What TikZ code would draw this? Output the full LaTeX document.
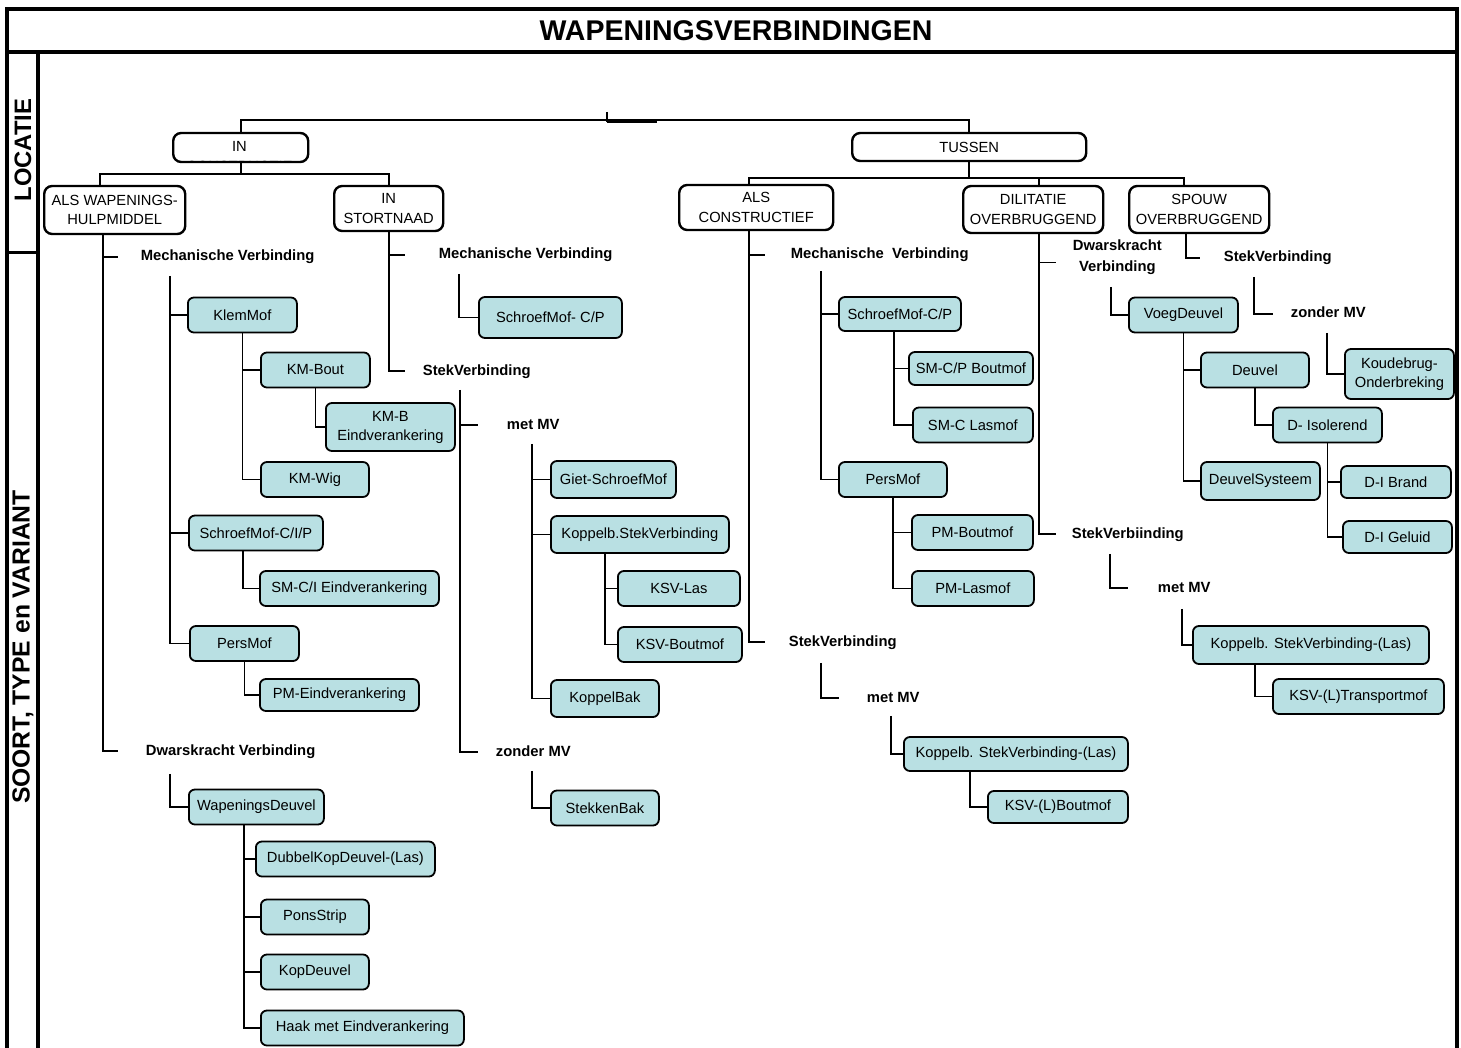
\documentclass[tikz,border=0pt]{standalone}
\usepackage{fontspec}
\setmainfont{Liberation Sans}
\definecolor{leafblue}{RGB}{185,224,227}

\begin{document}
\begin{tikzpicture}[x=1pt,y=-1pt,line width=1.8pt,
	locbox/.style={draw,line width=2.4pt,rounded corners=8pt,fill=white,anchor=west,align=center,inner sep=2pt,font=\fontsize{14.7}{19.5}\selectfont},
	leaf/.style={draw,rounded corners=6pt,fill=leafblue,anchor=west,align=center,minimum height=35pt,inner sep=2pt,font=\fontsize{14.7}{19}\selectfont},
	lbl/.style={anchor=west,inner sep=0pt,text height=11pt,text depth=3pt,font=\fontsize{14.8}{19}\selectfont\bfseries}]
	\useasboundingbox (0,0) rectangle (1461,1048);
	% frame
	\draw[line width=3.5pt] (7,1048) -- (7,9) -- (1457,9) -- (1457,1048);
	\draw[line width=3.5pt] (7,52) -- (1457,52);
	\draw[line width=3.5pt] (38,52) -- (38,1048);
	\draw[line width=3pt] (7,253) -- (38,253);
	\node[font=\fontsize{28.5}{31}\selectfont\bfseries] (title) at (736,31) {WAPENINGSVERBINDINGEN};
	\node[rotate=90,font=\fontsize{23.8}{26}\selectfont\bfseries] (loc) at (23,150) {LOCATIE};
	\node[rotate=90,font=\fontsize{24.7}{27}\selectfont\bfseries] (soort) at (23,647) {SOORT, TYPE en VARIANT};

	% locatie
	\node[locbox,minimum width=135pt,minimum height=29pt] (incon) at (172,147.5) {};
	\begin{scope}
		\clip[rounded corners=8pt] ([yshift=1.5pt]incon.south west) rectangle (incon.north east);
		\node[font=\fontsize{14.7}{20}\selectfont,align=center] at (239.5,157) {IN\\CONSTRUCTIE};
	\end{scope}
	\node[locbox,minimum width=234pt,minimum height=28pt] (tussen) at (851,147) {TUSSEN};
	\node[locbox,minimum width=141pt,minimum height=48pt] (awh) at (43,210) {ALS WAPENINGS-\\HULPMIDDEL};
	\node[locbox,minimum width=109pt,minimum height=45pt] (stort) at (333,208.5) {IN\\STORTNAAD};
	\node[locbox,minimum width=154pt,minimum height=45pt] (alsc) at (678,207.5) {ALS\\CONSTRUCTIEF};
	\node[locbox,minimum width=140pt,minimum height=47pt] (dil) at (962,209.5) {DILITATIE\\OVERBRUGGEND};
	\node[locbox,minimum width=140pt,minimum height=47pt] (spouw) at (1128,209.5) {SPOUW\\OVERBRUGGEND};

	\coordinate (root) at (607,112);
	\draw (root) -- ++(0,10);
	\draw[line width=2.6pt] (root) ++(0,10) -- ++(50,0);
	\draw (incon.north) -- ++(0,-12) -| (tussen.north);
	\draw (incon.south) -- ++(0,11) -| ([xshift=-15pt]awh.north);
	\draw (incon.south) -- ++(0,11) -| (stort.north);
	\draw (tussen.south) -- ++(0,16) -| ([xshift=-7pt]alsc.north);
	\draw (tussen.south) -- ++(0,16) -| ([xshift=6pt]dil.north);
	\draw (tussen.south) -- ++(0,16) -| ([xshift=-15pt]spouw.north);

	% soort, type en variant
	\node[lbl] (mech1) at (140,257) {Mechanische Verbinding};
	\node[lbl] (dwars1) at (145,751) {Dwarskracht Verbinding};
	\node[lbl] (mech2) at (438,255) {Mechanische Verbinding};
	\node[lbl] (stek1) at (422,371) {StekVerbinding};
	\node[lbl] (metmv1) at (506,425) {met MV};
	\node[lbl] (zonder1) at (495,752) {zonder MV};
	\node[lbl] (mech3) at (790,255) {Mechanische\ \ Verbinding};
	\node[lbl] (stek2) at (788,642) {StekVerbinding};
	\node[lbl] (metmv2) at (866,698) {met MV};
	\node[anchor=west,inner sep=0pt,align=center,font=\fontsize{14.8}{21}\selectfont\bfseries] (dwars2) at (1072,257.5) {Dwarskracht\\Verbinding};
	\node[lbl] (stek3) at (1071,534) {StekVerbiinding};
	\node[lbl] (metmv3) at (1157,588) {met MV};
	\node[lbl] (stek4) at (1223,258) {StekVerbinding};
	\node[lbl] (zonder2) at (1290,314) {zonder MV};

	\node[leaf,minimum width=109pt] (klem) at (187,315) {KlemMof};
	\node[leaf,minimum width=109pt] (kmbout) at (260,370) {KM-Bout};
	\node[leaf,minimum width=129pt,minimum height=48pt] (kmbe) at (325,427) {KM-B\\Eindverankering};
	\node[leaf,minimum width=108pt] (kmwig) at (260,479.5) {KM-Wig};
	\node[leaf,minimum width=134pt] (smcip) at (188,533) {SchroefMof-C/I/P};
	\node[leaf,minimum width=179pt] (smci) at (259,588.5) {SM-C/I Eindverankering};
	\node[leaf,minimum width=109pt] (pm1) at (189,643.5) {PersMof};
	\node[leaf,minimum width=159pt,minimum height=32pt] (pme) at (259,695) {PM-Eindverankering};
	\node[leaf,minimum width=135pt] (wd) at (188,807) {WapeningsDeuvel};
	\node[leaf,minimum width=179pt] (dkd) at (255,859) {DubbelKopDeuvel-(Las)};
	\node[leaf,minimum width=108pt] (pons) at (260,917) {PonsStrip};
	\node[leaf,minimum width=108pt] (kop) at (260,972) {KopDeuvel};
	\node[leaf,minimum width=203pt] (haak) at (260,1028) {Haak met Eindverankering};

	\node[leaf,minimum width=143pt,minimum height=41pt] (smcp1) at (478,317.5) {SchroefMof- C/P};
	\node[leaf,minimum width=125pt,minimum height=37pt] (giet) at (550,479.5) {Giet-SchroefMof};
	\node[leaf,minimum width=178pt,minimum height=37pt] (ksv) at (550,534.5) {Koppelb.StekVerbinding};
	\node[leaf,minimum width=122pt] (ksvlas) at (617,588.5) {KSV-Las};
	\node[leaf,minimum width=124pt] (ksvbout) at (617,644.5) {KSV-Boutmof};
	\node[leaf,minimum width=108pt,minimum height=37pt] (kbak) at (550,698.5) {KoppelBak};
	\node[leaf,minimum width=108pt] (sbak) at (550,808) {StekkenBak};

	\node[leaf,minimum width=122pt,minimum height=34pt] (smcp2) at (838,314) {SchroefMof-C/P};
	\node[leaf,minimum width=124pt,minimum height=33pt] (smcpb) at (908,368.5) {SM-C/P Boutmof};
	\node[leaf,minimum width=120pt] (smcl) at (912,425) {SM-C Lasmof};
	\node[leaf,minimum width=108pt] (pm2) at (838,479.5) {PersMof};
	\node[leaf,minimum width=121pt] (pmb) at (911,532.5) {PM-Boutmof};
	\node[leaf,minimum width=122pt] (pml) at (911,588.5) {PM-Lasmof};
	\node[leaf,minimum width=224pt,minimum height=34pt] (ksvl1) at (903,754) {Koppelb. StekVerbinding-(Las)};
	\node[leaf,minimum width=140pt,minimum height=32pt] (ksvlb) at (987,807) {KSV-(L)Boutmof};

	\node[leaf,minimum width=109pt] (voeg) at (1128,315) {VoegDeuvel};
	\node[leaf,minimum width=108pt] (deuvel) at (1200,370) {Deuvel};
	\node[leaf,minimum width=109pt] (diso) at (1272,425) {D- Isolerend};
	\node[leaf,minimum width=119pt,minimum height=38pt] (dsys) at (1200,481) {DeuvelSysteem};
	\node[leaf,minimum width=110pt,minimum height=32pt] (dibr) at (1340,482) {D-I Brand};
	\node[leaf,minimum width=109pt,minimum height=32pt] (digel) at (1342,537) {D-I Geluid};
	\node[leaf,minimum width=236pt,minimum height=38pt] (ksvl2) at (1192,645) {Koppelb. StekVerbinding-(Las)};
	\node[leaf,minimum width=171pt] (ksvtr) at (1272,696.5) {KSV-(L)Transportmof};
	\node[leaf,minimum width=109pt,minimum height=50pt] (koude) at (1344,374) {Koudebrug-\\Onderbreking};

	% als wapeningshulpmiddel
	\draw ([xshift=-12pt]awh.south) |- ([xshift=-22pt]mech1.west);
	\draw ([xshift=-12pt]awh.south) |- ([xshift=-27pt]dwars1.west);
	\draw ([yshift=-11pt]mech1.south -| 170,0) |- (pm1.west);
	\foreach \n in {klem,smcip} \draw (\n.west) -- (\n.west -| 170,0);
	\draw (klem.south) |- (kmwig.west);
	\draw (kmbout.west) -- (kmbout.west -| klem.south);
	\draw (kmbout.south) |- (kmbe.west);
	\draw ([xshift=-13pt]smcip.south) |- (smci.west);
	\draw (pm1.south) |- (pme.west);
	\draw ([yshift=-15pt]dwars1.south -| 170,0) |- (wd.west);
	\draw ([xshift=-12.5pt]wd.south) |- (haak.west);
	\foreach \n in {dkd,pons,kop} \draw (\n.west) -- (\n.west -| 243,0);

	% in stortnaad
	\draw (stort.south) |- ([xshift=-33pt]mech2.west);
	\draw (stort.south) |- ([xshift=-17pt]stek1.west);
	\draw ([yshift=-11pt]mech2.south -| 459,0) |- (smcp1.west);
	\draw ([yshift=-11pt]stek1.south -| 460,0) |- ([xshift=-17pt]zonder1.west);
	\draw (metmv1.west -| 460,0) -- ([xshift=-28pt]metmv1.west);
	\draw ([yshift=-11pt]metmv1.south -| 532,0) |- (kbak.west);
	\foreach \n in {giet,ksv} \draw (\n.west) -- (\n.west -| 532,0);
	\draw ([xshift=-35pt]ksv.south) |- (ksvbout.west);
	\draw (ksvlas.west) -- (ksvlas.west -| 604,0);
	\draw ([yshift=-11pt]zonder1.south -| 532,0) |- (sbak.west);

	% als constructief
	\draw ([xshift=-7pt]alsc.south) |- ([xshift=-25pt]mech3.west);
	\draw ([xshift=-7pt]alsc.south) |- ([xshift=-23pt]stek2.west);
	\draw ([yshift=-8pt]mech3.south -| 821,0) |- (pm2.west);
	\draw (smcp2.west) -- (smcp2.west -| 821,0);
	\draw ([xshift=-6pt]smcp2.south) |- (smcl.west);
	\draw (smcpb.west) -- (smcpb.west -| 893,0);
	\draw (pm2.south) |- (pml.west);
	\draw (pmb.west) -- (pmb.west -| 893,0);
	\draw ([yshift=-13pt]stek2.south -| 821,0) |- ([xshift=-27pt]metmv2.west);
	\draw ([yshift=-10pt]metmv2.south -| 891,0) |- (ksvl1.west);
	\draw ([xshift=-46pt]ksvl1.south) |- (ksvlb.west);

	% dilitatie overbruggend
	\draw ([xshift=6pt]dil.south) |- ([xshift=-16pt,yshift=-5pt]dwars2.west);
	\draw ([xshift=6pt]dil.south) |- ([xshift=-15pt]stek3.west);
	\draw ([yshift=-11pt]dwars2.south -| 1111,0) |- (voeg.west);
	\draw (voeg.south) |- (dsys.west);
	\draw (deuvel.west) -- (deuvel.west -| voeg.south);
	\draw (deuvel.south) |- (diso.west);
	\draw (diso.south) |- (digel.west);
	\draw (dibr.west) -- (dibr.west -| diso.south);
	\draw ([yshift=-12pt]stek3.south -| 1110,0) |- ([xshift=-29pt]metmv3.west);
	\draw ([yshift=-13pt]metmv3.south -| 1182,0) |- (ksvl2.west);
	\draw ([xshift=-56pt]ksvl2.south) |- (ksvtr.west);

	% spouw overbruggend
	\draw ([xshift=-13pt]spouw.south) |- ([xshift=-23pt]stek4.west);
	\draw ([yshift=-11pt]stek4.south -| 1254,0) |- ([xshift=-17pt]zonder2.west);
	\draw ([yshift=-11pt]zonder2.south -| 1327,0) |- (koude.west);
\end{tikzpicture}
\end{document}
